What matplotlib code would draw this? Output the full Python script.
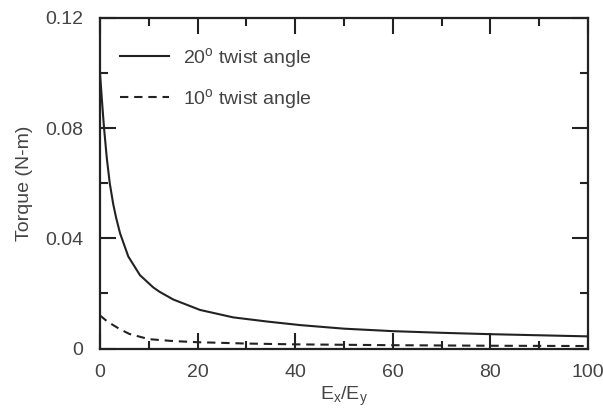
import matplotlib
matplotlib.use("Agg")
import matplotlib.pyplot as plt
from matplotlib.ticker import MultipleLocator

plt.rcParams['font.family'] = ['Liberation Sans', 'DejaVu Sans']
plt.rcParams['mathtext.fontset'] = 'custom'
plt.rcParams['mathtext.rm'] = 'Liberation Sans'
plt.rcParams['mathtext.it'] = 'Liberation Sans'

# Ex/Ey ratio and torque (N-m)
ratio_20 = [0, 0.4, 0.83, 1.4, 2.0, 2.7, 3.3, 4.1, 5.8, 8.2, 10.9, 12.2, 15, 20.5, 27.3, 34.2,
            41, 50, 60, 70, 80, 90, 100]
torque_20 = [0.100, 0.090, 0.080, 0.069, 0.060, 0.0525, 0.0475, 0.0419, 0.0334, 0.0266, 0.0222,
             0.0206, 0.0178, 0.0140, 0.0113, 0.0098, 0.0085, 0.0072, 0.0063, 0.0057, 0.0052,
             0.0048, 0.0044]

ratio_10 = [0, 1.5, 3.9, 6, 10, 15, 19.8, 30, 40, 60, 80, 100]
torque_10 = [0.012, 0.0098, 0.0072, 0.0053, 0.0034, 0.0027, 0.0023, 0.0018, 0.0015, 0.0012, 0.0010, 0.0009]

line_color = '#222222'
text_color = '#444444'

fig = plt.figure(figsize=(6.03, 4.12), dpi=100)
ax = fig.add_axes([100 / 603, (412 - 348.5) / 412, 488 / 603, 330.5 / 412])

ax.plot(ratio_20, torque_20, color=line_color, lw=1.5, linestyle='-', label='20$^{\\mathrm{o}}$ twist angle')
ax.plot(ratio_10, torque_10, color=line_color, lw=1.5, linestyle=(0, (4, 2.8)), label='10$^{\\mathrm{o}}$ twist angle')

ax.set_xlim(0, 100)
ax.set_ylim(0, 0.12)
ax.xaxis.set_major_locator(MultipleLocator(20))
ax.xaxis.set_minor_locator(MultipleLocator(10))
ax.yaxis.set_minor_locator(MultipleLocator(0.02))
ax.set_yticks([0, 0.04, 0.08, 0.12])
ax.set_yticklabels(['0', '0.04', '0.08', '0.12'])

ax.tick_params(which='both', direction='in', top=True, right=True, width=1.5,
               color=line_color, labelcolor=text_color, labelsize=14)
ax.tick_params(axis='x', which='both', pad=11)
ax.tick_params(axis='y', which='both', pad=12)
ax.tick_params(which='major', length=11.5)
ax.tick_params(which='minor', length=5.8)
for s in ax.spines.values():
    s.set_linewidth(1.6)
    s.set_color(line_color)

ax.set_xlabel('E$_{\\mathrm{x}}$/E$_{\\mathrm{y}}$', color=text_color, fontsize=14, labelpad=3)
ax.set_ylabel('Torque (N-m)', color=text_color, fontsize=14, labelpad=9)

leg = ax.legend(loc='upper left', bbox_to_anchor=(0.041, 0.915), frameon=False, fontsize=14,
                borderpad=0, borderaxespad=0,
                handlelength=2.5, handletextpad=0.75, labelspacing=0.85)
for t in leg.get_texts():
    t.set_color(text_color)

plt.savefig('out.png', dpi=100)
